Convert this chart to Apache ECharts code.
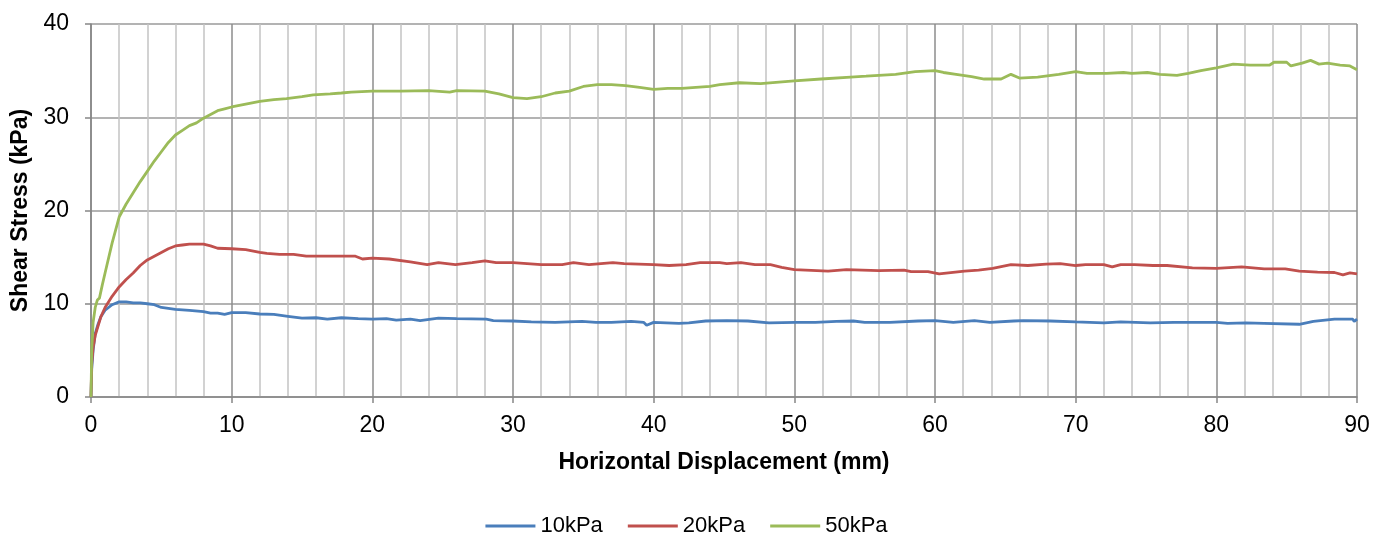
<!DOCTYPE html>
<html>
<head>
<meta charset="utf-8">
<script src="https://cdn.jsdelivr.net/npm/echarts@6/dist/echarts.min.js"></script>
<style>
  html, body { margin: 0; padding: 0; background: #fff; }
  #chart { width: 1373px; height: 533px; }
</style>
</head>
<body>
<div id="chart"></div>
<script>
// series names
var seriesNames = ['10kPa', '20kPa', '50kPa'];
var seriesColors = ['#4a7ebb', '#c0504d', '#9bbb59'];

// [horizontal displacement (mm), shear stress (kPa)]
var curve10 = [[0,0],[0.05,3],[0.15,5],[0.3,6.8],[0.5,7.8],[0.7,8.6],[1,9.3],[1.5,9.9],[2,10.2],[2.5,10.2],[3,10.1],[3.5,10.1],[4,10.0],[4.5,9.9],[5,9.6],[5.5,9.5],[6,9.4],[7,9.3],[8,9.15],[8.5,9.0],[9,9.0],[9.5,8.85],[10,9.05],[11,9.05],[12,8.9],[13,8.85],[14,8.65],[15,8.45],[16,8.5],[16.8,8.35],[17.8,8.5],[19,8.4],[20,8.35],[21,8.4],[21.7,8.25],[22.7,8.35],[23.4,8.2],[24.7,8.45],[26,8.4],[28.1,8.35],[28.6,8.2],[30,8.15],[31.3,8.05],[33,8.0],[34.9,8.1],[35.9,8.0],[37,8.0],[38.4,8.1],[39.3,8.0],[39.5,7.7],[40,8.0],[41.8,7.9],[42.5,7.95],[43.7,8.15],[45.2,8.2],[46.7,8.15],[48.2,7.95],[50.1,8.0],[51.5,8.0],[53,8.1],[54.2,8.15],[55,8.0],[56.8,8.0],[58.8,8.15],[60,8.2],[61.3,8.0],[62.8,8.2],[63.9,8.0],[65.6,8.15],[66.3,8.2],[68.2,8.15],[70,8.05],[72,7.95],[73.2,8.05],[75.3,7.95],[77,8.0],[80,8.0],[80.8,7.9],[82.1,7.95],[83.4,7.9],[85.9,7.8],[86.9,8.1],[88.4,8.35],[89.7,8.35],[89.8,8.1],[90,8.35]];

var curve20 = [[0,0],[0.05,3.5],[0.15,5.3],[0.3,6.6],[0.5,7.6],[0.7,8.6],[1,9.6],[1.5,10.8],[2,11.8],[2.5,12.6],[3,13.3],[3.5,14.1],[4,14.7],[4.5,15.1],[5,15.5],[5.5,15.9],[6,16.2],[6.5,16.3],[7,16.4],[7.5,16.4],[8,16.4],[8.5,16.2],[9,15.95],[10,15.9],[11,15.8],[12,15.5],[12.5,15.4],[13.4,15.3],[14.4,15.3],[15.3,15.1],[17.1,15.1],[18.8,15.1],[19.3,14.8],[20,14.9],[21.2,14.8],[22.7,14.5],[23.9,14.2],[24.7,14.4],[25.9,14.2],[27.1,14.4],[28,14.6],[28.8,14.4],[30,14.4],[32,14.2],[33.5,14.2],[34.3,14.4],[35.4,14.2],[37.1,14.4],[37.9,14.3],[40,14.2],[41.1,14.1],[42.3,14.2],[43.3,14.4],[44.7,14.4],[45.2,14.3],[46.2,14.4],[47.2,14.2],[48.3,14.2],[49.1,13.9],[50,13.65],[52.4,13.5],[53.7,13.65],[56,13.55],[57.8,13.6],[58.3,13.45],[59.5,13.45],[60.3,13.2],[62.1,13.5],[63.1,13.6],[64.1,13.8],[65.4,14.2],[66.6,14.1],[67.9,14.25],[68.9,14.3],[70,14.1],[70.7,14.2],[72,14.2],[72.6,13.95],[73.2,14.2],[74.2,14.2],[75.5,14.1],[76.5,14.1],[78.3,13.85],[80,13.8],[81.8,13.95],[83.4,13.75],[84.9,13.75],[85.9,13.5],[87.2,13.4],[88.4,13.35],[89,13.1],[89.5,13.3],[90,13.2]];

var curve50 = [[0,0],[0.05,5],[0.15,8],[0.3,9.6],[0.45,10.4],[0.6,10.6],[0.8,12],[1,13.3],[1.5,16.5],[2,19.3],[2.5,20.7],[3,21.9],[3.5,23.1],[4,24.2],[4.5,25.3],[5,26.3],[5.5,27.3],[6,28.1],[6.5,28.6],[7,29.1],[7.5,29.4],[8,29.9],[8.5,30.3],[9,30.7],[9.5,30.9],[10,31.1],[11,31.4],[12,31.7],[13,31.9],[13.9,32.0],[15,32.2],[15.8,32.4],[17,32.5],[17.8,32.6],[18.5,32.7],[20,32.8],[22,32.8],[24,32.85],[25.5,32.7],[26,32.85],[28,32.8],[29,32.5],[30,32.1],[31,32.0],[32,32.2],[33,32.6],[34,32.8],[35,33.3],[36,33.5],[37,33.5],[38,33.4],[39,33.2],[40,33.0],[41,33.1],[42,33.1],[43,33.2],[44,33.3],[44.7,33.5],[46.1,33.7],[47.6,33.6],[50,33.9],[51.9,34.1],[54,34.3],[55.1,34.4],[56,34.5],[57.2,34.6],[58.6,34.9],[60,35.0],[60.6,34.8],[61.5,34.6],[62.6,34.35],[63.5,34.1],[64.7,34.1],[65.4,34.6],[66,34.2],[67.3,34.3],[68.8,34.6],[70,34.9],[70.8,34.7],[72.2,34.7],[73.4,34.8],[74,34.7],[75.1,34.8],[76,34.6],[77.2,34.5],[78,34.7],[78.9,35.0],[80,35.3],[81.2,35.7],[82.4,35.6],[83.8,35.6],[84.1,35.9],[85,35.9],[85.3,35.5],[86.1,35.8],[86.7,36.1],[87.3,35.7],[87.9,35.8],[88.8,35.6],[89.5,35.5],[90,35.1]];

var curves = [curve10, curve20, curve50];

var chart = echarts.init(document.getElementById('chart'));
var font = 'Liberation Sans, Arial, sans-serif';

var option = {
  animation: false,
  textStyle: { fontFamily: font },
  grid: { left: 91, right: 16, top: 24, bottom: 136 },
  legend: {
    data: seriesNames,
    top: 510,
    left: 'center',
    icon: 'rect',
    itemWidth: 50,
    itemHeight: 3,
    itemGap: 25,
    textStyle: { fontSize: 22, color: '#000', fontFamily: font }
  },
  xAxis: {
    type: 'value',
    min: 0,
    max: 90,
    interval: 10,
    name: 'Horizontal Displacement (mm)',
    nameLocation: 'middle',
    nameGap: 54,
    nameTextStyle: { fontSize: 23, fontWeight: 'bold', color: '#000' },
    axisLine: { show: true, lineStyle: { color: '#868686', width: 1.5 } },
    axisTick: { show: true, length: 6, lineStyle: { color: '#868686', width: 1.5 } },
    axisLabel: { fontSize: 23, color: '#000', margin: 17 },
    splitLine: { show: true, lineStyle: { color: '#8c8c8c', width: 1.5 } },
    minorTick: { show: false, splitNumber: 5 },
    minorSplitLine: { show: true, lineStyle: { color: '#c4c4c4', width: 1.5 } }
  },
  yAxis: {
    type: 'value',
    min: 0,
    max: 40,
    interval: 10,
    name: 'Shear Stress (kPa)',
    nameLocation: 'middle',
    nameGap: 56,
    nameTextStyle: { fontSize: 23, fontWeight: 'bold', color: '#000' },
    axisLine: { show: true, lineStyle: { color: '#868686', width: 1.5 } },
    axisTick: { show: true, length: 6, lineStyle: { color: '#868686', width: 1.5 } },
    axisLabel: { fontSize: 23, color: '#000', margin: 22 },
    splitLine: { show: true, lineStyle: { color: '#9a9a9a', width: 1.5 } }
  },
  series: seriesNames.map(function (name, i) {
    return {
      name: name,
      type: 'line',
      data: curves[i],
      symbol: 'none',
      color: seriesColors[i],
      lineStyle: { width: 2.8, color: seriesColors[i] },
      z: 3 + i
    };
  })
};

chart.setOption(option);
</script>
</body>
</html>
